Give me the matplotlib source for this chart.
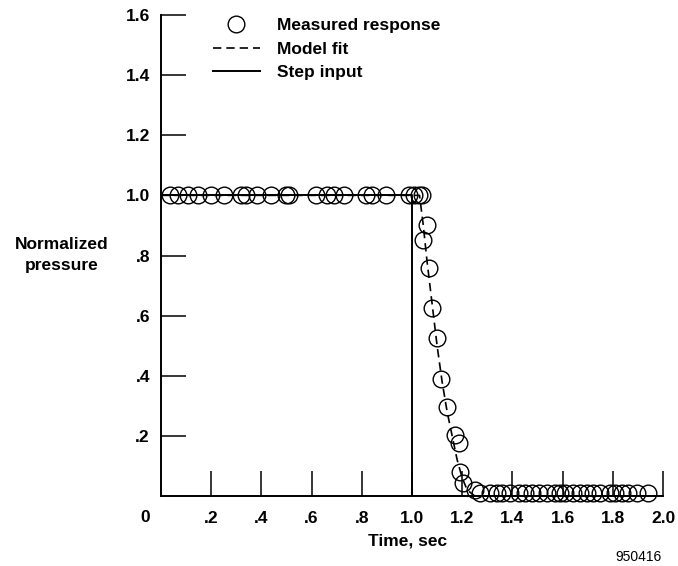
import matplotlib
matplotlib.use("Agg")
import matplotlib.pyplot as plt

# valeurs
top_x = [0.037, 0.066, 0.106, 0.146, 0.199, 0.252, 0.318, 0.338, 0.384, 0.437,
         0.497, 0.509, 0.616, 0.663, 0.689, 0.729, 0.815, 0.842, 0.895, 0.987,
         1.007, 1.027, 1.04]
drop_x = [1.058, 1.045, 1.066, 1.078, 1.101, 1.117, 1.14, 1.173, 1.188, 1.193,
          1.205, 1.25]
drop_y = [0.90, 0.85, 0.757, 0.625, 0.525, 0.389, 0.296, 0.203, 0.176, 0.08,
          0.043, 0.02]
bottom_x = [1.272, 1.312, 1.339, 1.359, 1.392, 1.425, 1.451, 1.478, 1.504, 1.538,
            1.571, 1.591, 1.610, 1.643, 1.670, 1.697, 1.723, 1.750, 1.789, 1.809,
            1.836, 1.862, 1.896, 1.942]

meas_x = top_x + drop_x + bottom_x
meas_y = [1.0] * len(top_x) + drop_y + [0.01] * len(bottom_x)

fit_x = [0, 1.03, 1.045, 1.06, 1.08, 1.10, 1.12, 1.14, 1.16, 1.18, 1.20, 1.22, 1.25, 2.0]
fit_y = [1, 1, 0.9, 0.78, 0.64, 0.5, 0.38, 0.28, 0.2, 0.12, 0.06, 0.02, 0, 0]

step_x = [0, 1.0, 1.0, 2.0]
step_y = [1, 1, 0, 0]

xticks = [0.2, 0.4, 0.6, 0.8, 1.0, 1.2, 1.4, 1.6, 1.8, 2.0]
xlabels = [".2", ".4", ".6", ".8", "1.0", "1.2", "1.4", "1.6", "1.8", "2.0"]
yticks = [0.2, 0.4, 0.6, 0.8, 1.0, 1.2, 1.4, 1.6]
ylabels = [".2", ".4", ".6", ".8", "1.0", "1.2", "1.4", "1.6"]

plt.rcParams['font.family'] = ['Liberation Sans', 'DejaVu Sans']
plt.rcParams['font.weight'] = 'bold'

W, H = 678, 566
fig = plt.figure(figsize=(W / 100, H / 100), dpi=100)
ax = fig.add_axes([161 / W, (H - 496) / H, (663 - 161) / W, (496 - 15) / H])

ax.plot(meas_x, meas_y, 'o', ms=12, mfc='none', mec='black', mew=1.0,
        label="Measured response", clip_on=False, zorder=3)
ax.plot(fit_x, fit_y, '--', color='black', lw=1.2, dashes=(5, 3), label="Model fit")
ax.plot(step_x, step_y, '-', color='black', lw=1.4, label="Step input")

ax.set_xlim(0, 2.0)
ax.set_ylim(0, 1.6)
ax.spines['top'].set_visible(False)
ax.spines['right'].set_visible(False)
ax.spines['left'].set_linewidth(1.4)
ax.spines['bottom'].set_linewidth(1.4)

ax.set_xticks(xticks)
ax.set_xticklabels(xlabels)
ax.set_yticks(yticks)
ax.set_yticklabels(ylabels)
ax.tick_params(axis='both', direction='in', length=18, width=1.1, labelsize=12.5)
ax.tick_params(axis='x', pad=11)
ax.tick_params(axis='y', pad=8)

ax.text(-0.064, -0.073, "0", ha='center', va='center', fontsize=12.5,
        fontweight='bold', clip_on=False)

fig.text(62 / W, 1 - 255 / H, "Normalized\npressure", ha='center', va='center',
         fontsize=12.5, fontweight='bold', linespacing=1.45)
fig.text(408 / W, 1 - 541 / H, "Time, sec", ha='center', va='center',
         fontsize=12.5, fontweight='bold')
fig.text(638 / W, 1 - 557 / H, "950416", ha='center', va='center',
         fontsize=10, fontweight='normal')

ax.legend(loc='upper left', bbox_to_anchor=(213 / W, 1 - 18 / H),
          bbox_transform=fig.transFigure, frameon=False, fontsize=12.5,
          handlelength=2.7, handletextpad=1.0, labelspacing=0.48,
          borderpad=0, borderaxespad=0)

fig.savefig("out.png", dpi=100)
